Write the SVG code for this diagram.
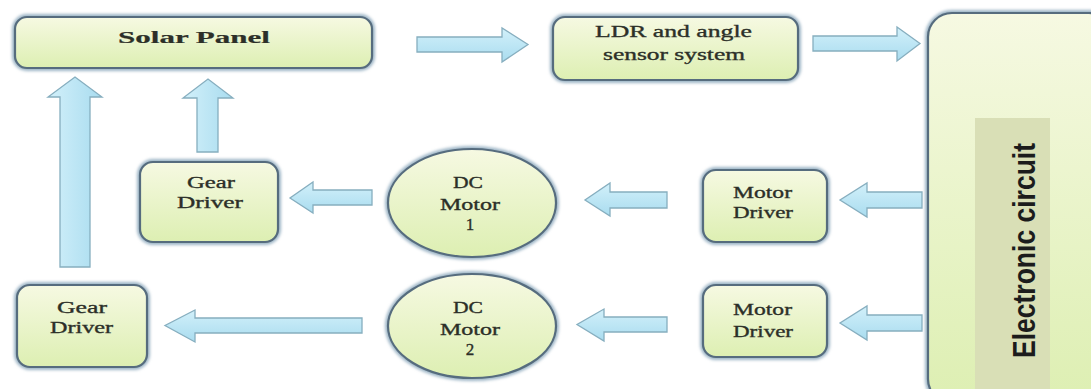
<svg xmlns="http://www.w3.org/2000/svg" width="1091" height="389" viewBox="0 0 1091 389">
<defs>
  <linearGradient id="boxFill" x1="0" y1="0" x2="0" y2="1">
    <stop offset="0" stop-color="#f6f9e2"/>
    <stop offset="1" stop-color="#ddefb2"/>
  </linearGradient>
  <linearGradient id="arrH" x1="0" y1="0" x2="0" y2="1">
    <stop offset="0" stop-color="#d2f0fa"/>
    <stop offset="1" stop-color="#a9dcef"/>
  </linearGradient>
  <linearGradient id="arrV" x1="0" y1="0" x2="1" y2="0">
    <stop offset="0" stop-color="#d2f0fa"/>
    <stop offset="1" stop-color="#a9dcef"/>
  </linearGradient>
  <filter id="soft" x="-10%" y="-10%" width="120%" height="120%">
    <feGaussianBlur stdDeviation="1.8"/>
  </filter>
</defs>
<style>
  .halo { fill: none; stroke: #9db5c6; stroke-width: 6; filter: url(#soft); }
  .box { fill: url(#boxFill); stroke: #566c7e; stroke-width: 2.2; }
  .ah { fill: url(#arrH); stroke: #86aebf; stroke-width: 1.3; }
  .av { fill: url(#arrV); stroke: #86aebf; stroke-width: 1.3; }
  .lbl { font-family: "Liberation Serif", "Times New Roman", serif; font-size: 17px; fill: #2c2f28; stroke: #2c2f28; stroke-width: 0.35; }
  .b { font-weight: bold; stroke-width: 0.2; }
  .ec { font-family: "Liberation Sans", Arial, sans-serif; font-size: 32px; font-weight: bold; fill: #1c1c1c; }
</style>
<rect width="1091" height="389" fill="#ffffff"/>

<g id="connectors">
  <polygon class="ah" points="417,37 502,37 502,28 528,44.5 502,62 502,52 417,52"/>
  <polygon class="ah" points="813,36 897,36 897,27 920,43.5 897,61 897,51 813,51"/>
  <polygon class="ah" points="922,192 867,192 867,183 840,200 867,217 867,208 922,208"/>
  <polygon class="ah" points="922,315 867,315 867,306 840,323 867,340 867,331 922,331"/>
  <polygon class="ah" points="667,192 610,192 610,183 585,200 610,216 610,208 667,208"/>
  <polygon class="ah" points="667,317 604,317 604,309 577,324.5 604,341 604,332 667,332"/>
  <polygon class="ah" points="372,190 313,190 313,182 290,198 313,213 313,205 372,205"/>
  <polygon class="ah" points="362,318 195,318 195,310 165,325.5 195,342 195,333 362,333"/>
  <polygon class="av" points="197,152 197,98 183,98 208,79 233,98 218,98 218,152"/>
  <polygon class="av" points="60,267 60,97 48,97 75,77 102,97 90,97 90,267"/>
</g>

<g id="solar-panel">
  <rect class="halo" x="15" y="17" width="357" height="51" rx="12"/>
  <rect class="box" x="15" y="17" width="357" height="51" rx="12"/>
  <text class="lbl b" x="118" y="43" textLength="152" lengthAdjust="spacingAndGlyphs">Solar Panel</text>
</g>

<g id="ldr-sensor">
  <rect class="halo" x="553" y="17" width="245" height="63" rx="12"/>
  <rect class="box" x="553" y="17" width="245" height="63" rx="12"/>
  <text class="lbl" x="595" y="37" textLength="157" lengthAdjust="spacingAndGlyphs">LDR and angle</text>
  <text class="lbl" x="603" y="60" textLength="142" lengthAdjust="spacingAndGlyphs">sensor system</text>
</g>

<g id="electronic-circuit">
  <rect class="halo" x="928" y="13" width="185" height="390" rx="24"/>
  <rect class="box" x="928" y="13" width="185" height="390" rx="24"/>
  <rect x="975" y="118" width="75" height="275" fill="#d9dfb6"/>
  <text class="ec" transform="translate(1035,250.5) rotate(-90)" x="0" y="0" text-anchor="middle" textLength="215" lengthAdjust="spacingAndGlyphs">Electronic circuit</text>
</g>

<g id="gear-driver-1">
  <rect class="halo" x="140" y="162" width="138" height="80" rx="13"/>
  <rect class="box" x="140" y="162" width="138" height="80" rx="13"/>
  <text class="lbl" x="187" y="188" textLength="48" lengthAdjust="spacingAndGlyphs">Gear</text>
  <text class="lbl" x="177" y="208" textLength="66" lengthAdjust="spacingAndGlyphs">Driver</text>
</g>

<g id="gear-driver-2">
  <rect class="halo" x="17" y="285" width="130" height="82" rx="13"/>
  <rect class="box" x="17" y="285" width="130" height="82" rx="13"/>
  <text class="lbl" x="57" y="313" textLength="50" lengthAdjust="spacingAndGlyphs">Gear</text>
  <text class="lbl" x="50" y="333" textLength="63" lengthAdjust="spacingAndGlyphs">Driver</text>
</g>

<g id="dc-motor-1">
  <ellipse class="halo" cx="472" cy="203" rx="84" ry="54"/>
  <ellipse class="box" cx="472" cy="203" rx="84" ry="54"/>
  <text class="lbl" x="453" y="188" textLength="30" lengthAdjust="spacingAndGlyphs">DC</text>
  <text class="lbl" x="440" y="210" textLength="60" lengthAdjust="spacingAndGlyphs">Motor</text>
  <text class="lbl" x="470" y="230" text-anchor="middle">1</text>
</g>

<g id="dc-motor-2">
  <ellipse class="halo" cx="472" cy="326" rx="84" ry="52"/>
  <ellipse class="box" cx="472" cy="326" rx="84" ry="52"/>
  <text class="lbl" x="453" y="313" textLength="30" lengthAdjust="spacingAndGlyphs">DC</text>
  <text class="lbl" x="440" y="335" textLength="60" lengthAdjust="spacingAndGlyphs">Motor</text>
  <text class="lbl" x="470" y="355" text-anchor="middle">2</text>
</g>

<g id="motor-driver-1">
  <rect class="halo" x="703" y="170" width="124" height="72" rx="13"/>
  <rect class="box" x="703" y="170" width="124" height="72" rx="13"/>
  <text class="lbl" x="733" y="198" textLength="59" lengthAdjust="spacingAndGlyphs">Motor</text>
  <text class="lbl" x="733" y="218" textLength="60" lengthAdjust="spacingAndGlyphs">Driver</text>
</g>

<g id="motor-driver-2">
  <rect class="halo" x="703" y="285" width="124" height="72" rx="13"/>
  <rect class="box" x="703" y="285" width="124" height="72" rx="13"/>
  <text class="lbl" x="733" y="315" textLength="59" lengthAdjust="spacingAndGlyphs">Motor</text>
  <text class="lbl" x="733" y="337" textLength="60" lengthAdjust="spacingAndGlyphs">Driver</text>
</g>
</svg>
